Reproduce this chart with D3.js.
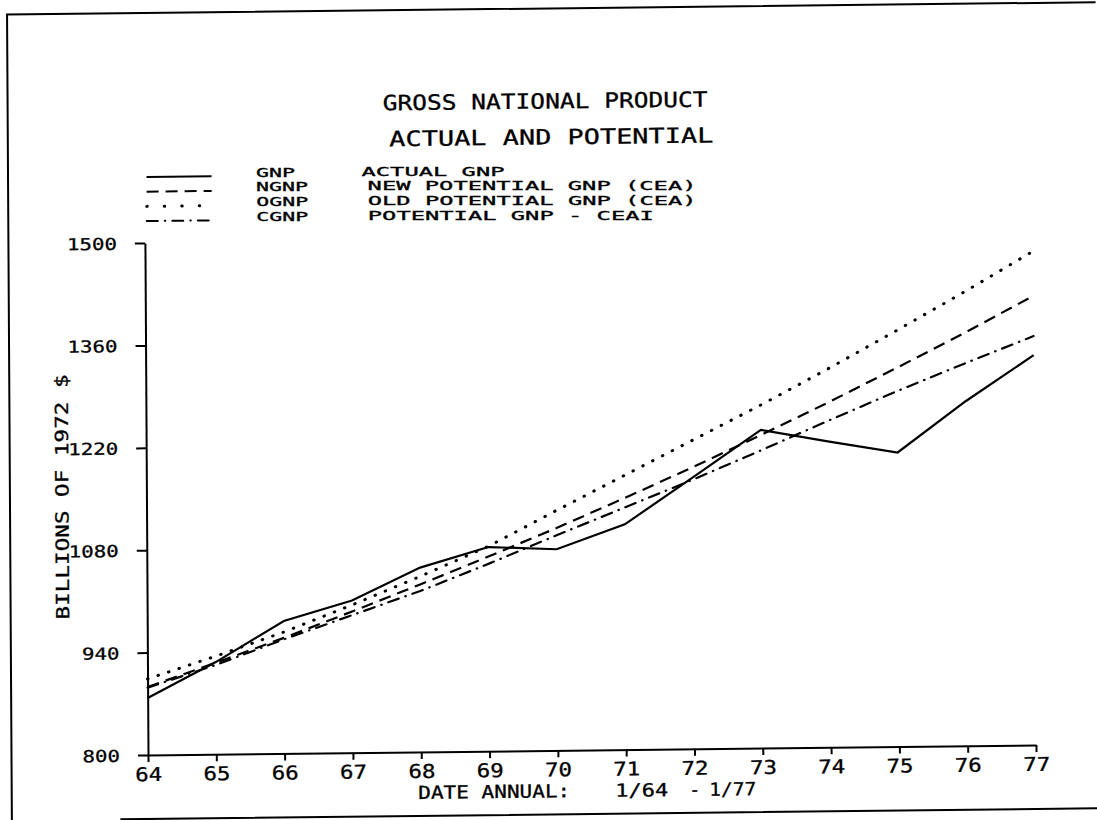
<!DOCTYPE html>
<html>
<head>
<meta charset="utf-8">
<script src="https://cdn.jsdelivr.net/npm/d3@7"></script>
<style>
  body { margin: 0; background: #fff; }
  text { font-family: "DejaVu Sans Mono", monospace; fill: #000; stroke: #000; stroke-width: 0.3px; }
</style>
</head>
<body>
<div class="graph"></div>
<script>
// annual values, billions of 1972 dollars
var years = [64, 65, 66, 67, 68, 69, 70, 71, 72, 73, 74, 75, 76, 77];
var gnp  = [878, 926, 981, 1008, 1052, 1079, 1075, 1108, 1171, 1235, 1218, 1202, 1271, 1333];
var ngnp = [893, 925, 958, 993, 1029, 1066, 1104, 1144, 1185, 1228, 1272, 1318, 1365, 1414];
var ognp = [904, 934, 966, 1002, 1040, 1080, 1128, 1175, 1222, 1269, 1318, 1369, 1421, 1475];
var cgnp = [892, 922, 956, 988, 1020, 1056, 1094, 1131, 1168, 1207, 1247, 1286, 1323, 1359];

var yTicks = [800, 940, 1080, 1220, 1360, 1500];
var codes = ['GNP', 'NGNP', 'OGNP', 'CGNP'];
var names = ['ACTUAL GNP', 'NEW POTENTIAL GNP (CEA)', 'OLD POTENTIAL GNP (CEA)', 'POTENTIAL GNP - CEAI'];
var dashes = [null, '12,7', '0.5,10.5', '11,7,0.5,7'];

var series = [gnp, ngnp, ognp, cgnp].map(function(vals, i) {
  return { code: codes[i], values: vals.map(function(v, j) { return { year: years[j], value: v }; }) };
});

var W = 1097, H = 820;
var ox = 148, oy = 755;
var kx = 0.006, ky = -0.0113;

// where a point of the straight page lands on the skewed scan
function skew(px, py) {
  var dx = px - ox, dy = py - oy;
  return [ox + dx + kx * dy, oy + ky * dx + dy];
}

var svg = d3.select('.graph').append('svg')
    .attr('width', W)
    .attr('height', H);

// the scanned page is a little skewed
var page = svg.append('g')
    .attr('transform', 'translate(' + ox + ',' + oy + ') matrix(1,' + ky + ',' + kx + ',1,0,0) translate(' + (-ox) + ',' + (-oy) + ')');

// page frame (top, left, bottom)
page.append('path')
    .attr('d', 'M1100,13 L11.5,13 L11.5,822 M120,819 L1100,819')
    .attr('fill', 'none')
    .attr('stroke', '#000')
    .attr('stroke-width', 2);

var x = d3.scaleLinear().domain([64, 77]).range([148, 1036]);
var y = d3.scaleLinear().domain([800, 1500]).range([755, 243]);

var xAxis = d3.axisBottom(x).tickValues(years).tickSize(7).tickSizeOuter(0);
var yAxis = d3.axisLeft(y).tickValues(yTicks).tickFormat(d3.format('d')).tickSize(10).tickSizeOuter(0);

var gx = page.append('g')
    .attr('transform', 'translate(0,' + oy + ')')
    .call(xAxis);
gx.selectAll('text')
    .attr('y', 26)
    .attr('dy', 0)
    .attr('font-size', 19)
    .attr('textLength', 27)
    .attr('lengthAdjust', 'spacingAndGlyphs');

var gy = page.append('g')
    .attr('transform', 'translate(' + ox + ',0)')
    .call(yAxis);
gy.selectAll('text')
    .attr('x', -28)
    .attr('dy', '0.36em')
    .attr('font-size', 16.5)
    .attr('textLength', function(d) { return String(d).length * 12.5; })
    .attr('lengthAdjust', 'spacingAndGlyphs');

page.selectAll('.domain, .tick line')
    .attr('stroke', '#000')
    .attr('stroke-width', 2);
page.selectAll('.tick text').attr('fill', '#000');

var line = d3.line()
    .x(function(d) { return x(d.year); })
    .y(function(d) { return y(d.value); });

page.selectAll('.series')
    .data(series)
    .enter().append('path')
    .attr('class', 'series')
    .attr('d', function(d) { return line(d.values); })
    .attr('fill', 'none')
    .attr('stroke', '#000')
    .attr('stroke-width', function(d, i) { return i === 2 ? 3 : 2.2; })
    .attr('stroke-linecap', function(d, i) { return i >= 2 ? 'round' : 'butt'; })
    .attr('stroke-dasharray', function(d, i) { return dashes[i]; });

// titles
page.append('text')
    .attr('x', 549).attr('y', 113)
    .attr('text-anchor', 'middle')
    .attr('font-size', 21)
    .attr('textLength', 325)
    .attr('lengthAdjust', 'spacingAndGlyphs')
    .text('GROSS NATIONAL PRODUCT');

page.append('text')
    .attr('x', 555).attr('y', 149)
    .attr('text-anchor', 'middle')
    .attr('font-size', 21)
    .attr('textLength', 324)
    .attr('lengthAdjust', 'spacingAndGlyphs')
    .text('ACTUAL AND POTENTIAL');

// legend: samples on the skewed page, labels kept level so the rows don't collide
var legendX = [365, 371, 371, 371];
var rowY = function(i) { return 178 + i * 14.7; };

page.selectAll('.legend-line')
    .data(codes)
    .enter().append('line')
    .attr('class', 'legend-line')
    .attr('x1', 150).attr('x2', 215)
    .attr('y1', function(d, i) { return rowY(i) - 1; })
    .attr('y2', function(d, i) { return rowY(i) - 1; })
    .attr('stroke', '#000')
    .attr('stroke-width', function(d, i) { return i === 2 ? 3 : 2; })
    .attr('stroke-linecap', function(d, i) { return i >= 2 ? 'round' : 'butt'; })
    .attr('stroke-dasharray', function(d, i) { return i === 2 ? '0.5,17' : dashes[i]; });

svg.selectAll('.legend-code')
    .data(codes)
    .enter().append('text')
    .attr('class', 'legend-code')
    .attr('x', function(d, i) { return skew(259.5, rowY(i))[0]; })
    .attr('y', function(d, i) { return skew(259.5, rowY(i))[1]; })
    .attr('font-size', 12.5)
    .attr('textLength', function(d) { return d.length * 13; })
    .attr('lengthAdjust', 'spacingAndGlyphs')
    .text(function(d) { return d; });

svg.selectAll('.legend-name')
    .data(names)
    .enter().append('text')
    .attr('class', 'legend-name')
    .attr('x', function(d, i) { return skew(legendX[i], rowY(i))[0]; })
    .attr('y', function(d, i) { return skew(legendX[i], rowY(i))[1]; })
    .attr('font-size', 12.5)
    .attr('textLength', function(d) { return d.length * 14.3; })
    .attr('lengthAdjust', 'spacingAndGlyphs')
    .text(function(d) { return d; });

// axis titles
var xTitle = [
  { t: 'DATE ANNUAL:', x0: 418, x1: 570 },
  { t: '1/64', x0: 615, x1: 668 },
  { t: '-', x0: 689, x1: 700 },
  { t: '1/77', x0: 709, x1: 756 }
];
page.selectAll('.xtitle')
    .data(xTitle)
    .enter().append('text')
    .attr('class', 'xtitle')
    .attr('x', function(d) { return d.x0; })
    .attr('y', 802)
    .attr('font-size', 18)
    .attr('textLength', function(d) { return d.x1 - d.x0; })
    .attr('lengthAdjust', 'spacingAndGlyphs')
    .text(function(d) { return d.t; });

page.append('text')
    .attr('transform', 'translate(70,496) rotate(-90)')
    .attr('text-anchor', 'middle')
    .attr('font-size', 18)
    .attr('textLength', 245)
    .attr('lengthAdjust', 'spacingAndGlyphs')
    .text('BILLIONS OF 1972 $');
</script>
</body>
</html>
